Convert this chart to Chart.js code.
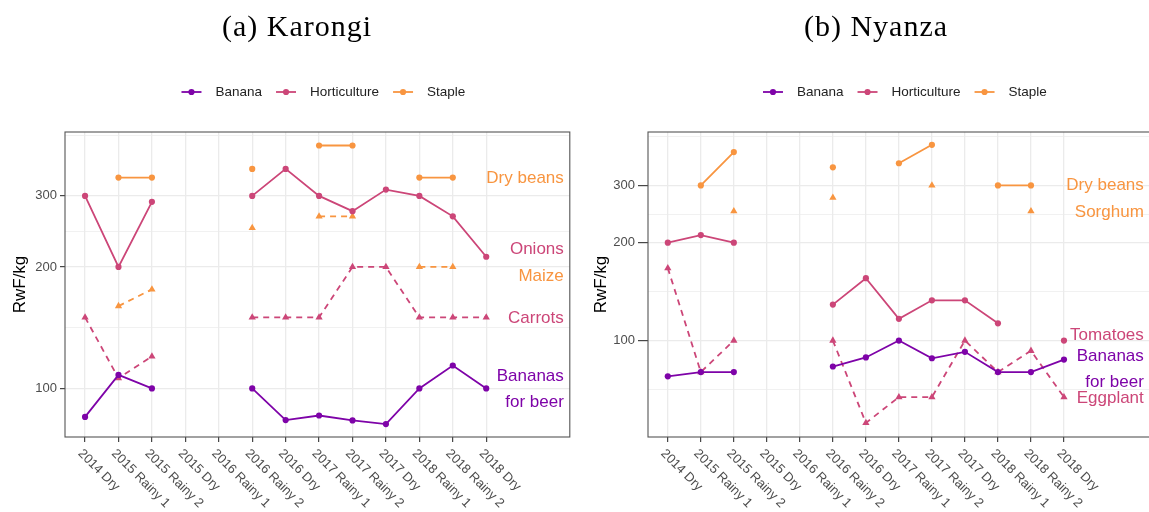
<!DOCTYPE html>
<html><head><meta charset="utf-8">
<script src="https://cdn.jsdelivr.net/npm/chart.js@4.4.0/dist/chart.umd.min.js"></script>
<style>
html,body{margin:0;padding:0;background:#fff;overflow:hidden;width:1149px;height:512px;}
canvas{position:absolute;top:0;}
#c1{left:0}
#c2{left:574px}
</style></head><body>
<canvas id="c1" width="574" height="512"></canvas>
<canvas id="c2" width="580" height="512"></canvas>
<script>
// ---------- data ----------
const categories = ['2014 Dry','2015 Rainy 1','2015 Rainy 2','2015 Dry','2016 Rainy 1','2016 Rainy 2','2016 Dry','2017 Rainy 1','2017 Rainy 2','2017 Dry','2018 Rainy 1','2018 Rainy 2','2018 Dry'];
const groups = ['Banana','Horticulture','Staple'];
const yTickValues = [100,200,300];
const yMinorValues = [70.7,141.4,244.9,424.3];

// (a) Karongi
const karongiBanana   = [85,108,100,null,null,100,83.5,85.7,83.3,81.6,100,114,100];
const karongiOnions   = [300,200,290,null,null,300,350,300,275,311,300,267,212];
const karongiCarrots  = [150,106,120,null,null,150,150,150,200,200,150,150,150];
const karongiDryBeans = [null,333,333,null,null,350,null,400,400,null,333,333,null];
const karongiMaize    = [null,160,176,null,null,250,null,267,267,null,200,200,null];
const karongiLabels      = ['Dry beans','Onions','Maize','Carrots','Bananas','for beer'];
const karongiLabelValues = [332,221,190,149,107,92.5];
const karongiLabelGroups = ['Staple','Horticulture','Staple','Horticulture','Banana','Banana'];

// (b) Nyanza
const nyanzaBanana   = [77.6,80,80,null,null,83.2,88.7,100,88.2,92.3,80,80,87.4];
const nyanzaTomatoes = [200,211,200,null,null,129,155.5,116.6,133,133,113,null,100];
const nyanzaEggplant = [167,80,100,null,null,100,55.8,67,67,100,80,93,67];
const nyanzaDryBeans = [null,300,380,null,null,341,null,351,400,null,300,300,null];
const nyanzaSorghum  = [null,null,250,null,null,275,null,null,300,null,null,250,null];
const nyanzaLabels      = ['Dry beans','Sorghum','Tomatoes','Bananas','for beer','Eggplant'];
const nyanzaLabelValues = [300,248,104,89.5,74.6,66.6];
const nyanzaLabelGroups = ['Staple','Staple','Horticulture','Banana','Banana','Horticulture'];

// ---------- styling ----------
const colors = {Banana:'#7E03A8', Horticulture:'#CC4678', Staple:'#F89540'};
const SANS = '"Liberation Sans", Arial, sans-serif';
const SERIF = '"Liberation Serif", "Times New Roman", serif';
Chart.defaults.font.family = SANS;

function ds(data, group, dashed){
  const c = colors[group];
  return {
    data: data.map((v,i)=>({x:i, y:v})),
    borderColor:c, backgroundColor:c,
    borderWidth:1.8, borderDash: dashed?[6,5]:[],
    pointStyle: dashed?'triangle':'circle',
    pointRadius: dashed?4.2:3.1, pointBorderWidth:0, pointHoverRadius:0,
    spanGaps:false, fill:false, tension:0
  };
}

function panelPlugin(cfg){
  return {
    id:'panel_'+cfg.id,
    afterDatasetsDraw(chart){
      const ctx = chart.ctx, ca = chart.chartArea, ys = chart.scales.y;
      ctx.save();
      ctx.font = '17px '+SANS; ctx.textAlign='right'; ctx.textBaseline='middle';
      cfg.labels.forEach((t,i)=>{
        ctx.fillStyle = colors[cfg.labelGroups[i]];
        ctx.fillText(t, ca.right-6, ys.getPixelForValue(cfg.labelValues[i]));
      });
      ctx.strokeStyle='#555'; ctx.lineWidth=1.1;
      ctx.strokeRect(ca.left, ca.top, ca.right-ca.left, ca.bottom-ca.top);
      ctx.restore();
    },
    afterDraw(chart){
      const ctx = chart.ctx, ca = chart.chartArea, xs = chart.scales.x;
      ctx.save();
      ctx.font = '13px '+SANS; ctx.fillStyle='#4D4D4D'; ctx.textAlign='left'; ctx.textBaseline='middle';
      categories.forEach((c,i)=>{
        const px = xs.getPixelForValue(i);
        ctx.save(); ctx.translate(px-5, ca.bottom+14.5); ctx.rotate(Math.PI/4);
        ctx.fillText(c,0,0); ctx.restore();
      });
      ctx.font = '30px '+SERIF; ctx.fillStyle='#000'; ctx.textAlign='center'; ctx.textBaseline='alphabetic';
      try{ ctx.letterSpacing='1px'; }catch(e){}
      ctx.fillText(cfg.title, cfg.titleX, 36);
      try{ ctx.letterSpacing='0px'; }catch(e){}
      ctx.font = '13.5px '+SANS; ctx.textBaseline='middle'; ctx.textAlign='left';
      const ly = 92, sym = 20, gap = 14;
      const widths = groups.map(g=>ctx.measureText(g).width);
      const total = widths.reduce((a,w)=>a+sym+gap+w,0) + gap*(groups.length-1);
      let x = (ca.left+ca.right)/2 + 6 - total/2;
      groups.forEach((g,i)=>{
        ctx.strokeStyle=colors[g]; ctx.fillStyle=colors[g]; ctx.lineWidth=1.8; ctx.setLineDash([]);
        ctx.beginPath(); ctx.moveTo(x,ly); ctx.lineTo(x+sym,ly); ctx.stroke();
        ctx.beginPath(); ctx.arc(x+sym/2,ly,3.1,0,Math.PI*2); ctx.fill();
        ctx.fillStyle='#222'; ctx.fillText(g, x+sym+gap, ly+0.5);
        x += sym+gap+widths[i]+gap;
      });
      ctx.restore();
    }
  };
}

function makeChart(el, cfg){
  const ticksAll = yMinorValues.concat(yTickValues).filter(v=>v>=cfg.yMin && v<=cfg.yMax).sort((a,b)=>a-b);
  const isMajor = v => yTickValues.includes(v);
  return new Chart(document.getElementById(el), {
    type:'line',
    data:{datasets:cfg.datasets},
    options:{
      responsive:false, animation:false, events:[],
      layout:{padding:{left:0,right:2,top:132,bottom:0}},
      plugins:{legend:{display:false}, title:{display:false}, tooltip:{enabled:false}},
      scales:{
        x:{
          type:'linear', min:-0.6, max:cfg.xMax,
          afterBuildTicks: s => { s.ticks = categories.map((_,i)=>({value:i})); },
          afterFit: s => { s.height = 75; },
          ticks:{display:false},
          grid:{color:'#EBEBEB', lineWidth:1.3, drawTicks:true, tickLength:5, tickColor:'#333', tickWidth:1.1},
          border:{display:false}
        },
        y:{
          type:'logarithmic', min:cfg.yMin, max:cfg.yMax,
          afterBuildTicks: s => { s.ticks = ticksAll.map(v=>({value:v})); },
          afterFit: s => { s.width = cfg.yWidth; },
          ticks:{
            callback: v => isMajor(v) ? String(v) : '',
            color:'#4D4D4D', font:{size:13, family:SANS}, padding:3, autoSkip:false
          },
          grid:{
            color:'#EBEBEB',
            lineWidth: c => (c.tick && isMajor(c.tick.value)) ? 1.3 : 0.7,
            tickColor: c => (c.tick && isMajor(c.tick.value)) ? '#333' : 'rgba(0,0,0,0)',
            tickLength: cfg.yTick, tickWidth:1.1, drawTicks:true
          },
          border:{display:false},
          title:{display:true, text:'RwF/kg', color:'#000', font:{size:17, family:SANS}, padding:{top:cfg.titlePad,bottom:0}}
        }
      }
    },
    plugins:[panelPlugin(cfg)]
  });
}

makeChart('c1', {
  id:'a', title:'(a) Karongi', titleX:297,
  yMin:75.8, yMax:432, xMax:14.5, yWidth:65, yTick:5, titlePad:10,
  labels:karongiLabels, labelValues:karongiLabelValues, labelGroups:karongiLabelGroups,
  datasets:[
    ds(karongiBanana,'Banana',false),
    ds(karongiOnions,'Horticulture',false),
    ds(karongiCarrots,'Horticulture',true),
    ds(karongiDryBeans,'Staple',false),
    ds(karongiMaize,'Staple',true)
  ]
});

makeChart('c2', {
  id:'b', title:'(b) Nyanza', titleX:302,
  yMin:50.5, yMax:438, xMax:14.6, yWidth:74, yTick:10, titlePad:17,
  labels:nyanzaLabels, labelValues:nyanzaLabelValues, labelGroups:nyanzaLabelGroups,
  datasets:[
    ds(nyanzaBanana,'Banana',false),
    ds(nyanzaTomatoes,'Horticulture',false),
    ds(nyanzaEggplant,'Horticulture',true),
    ds(nyanzaDryBeans,'Staple',false),
    ds(nyanzaSorghum,'Staple',true)
  ]
});
</script>
</body></html>
